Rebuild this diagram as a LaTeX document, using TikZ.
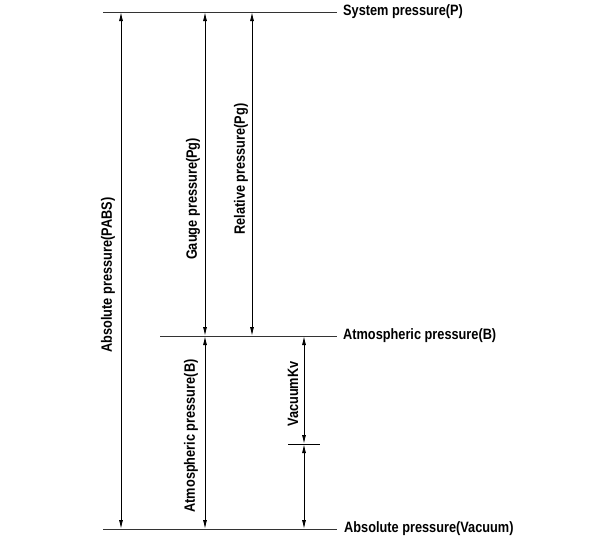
\documentclass[tikz,border=0pt]{standalone}
\usepackage{fontspec}
\setmainfont[FakeStretch=0.85]{Liberation Sans}
\usetikzlibrary{arrows.meta}
\begin{document}
\begin{tikzpicture}[x=1pt,y=-1pt,
  level/.style={draw=black!80, line width=0.9pt},
  dim/.style={draw=black, line width=0.9pt, {Latex[length=9pt,width=4pt]}-{Latex[length=9pt,width=4pt]}},
  lab/.style={font=\bfseries\fontsize{15}{18}\selectfont, inner sep=0pt},
  vlab/.style={lab, rotate=90, anchor=center}]
\useasboundingbox (0,0) rectangle (600,542);
% level lines
\coordinate (tl) at (103,12);  \coordinate (tr) at (337,12);
\coordinate (ml) at (160,336); \coordinate (mr) at (337,336);
\coordinate (bl) at (103,529); \coordinate (br) at (337,529);
\draw[level] (tl) -- (tr);
\draw[level] (ml) -- (mr);
\draw[level] (bl) -- (br);
\node[lab, anchor=west] (sys) at (343,12) {System pressure(P)};
\node[lab, anchor=west] (atm) at (343,336) {Atmospheric pressure(B)};
\node[lab, anchor=west] (vac) at (344,529) {Absolute pressure(Vacuum)};
% dimension endpoints
\coordinate (a1) at (121,12);  \coordinate (a2) at (121,529);
\coordinate (g1) at (205,12);  \coordinate (g2) at (205,336); \coordinate (g3) at (205,529);
\coordinate (r1) at (252,12);  \coordinate (r2) at (252,336);
\coordinate (v1) at (304,336); \coordinate (v2) at (304,444); \coordinate (v3) at (304,529);
\coordinate (k1) at (288,444); \coordinate (k2) at (320,444);
\draw[dim] (a1) -- (a2);
\draw[dim] (g1) -- (g2);
\draw[dim] (g2) -- (g3);
\draw[dim] (r1) -- (r2);
\draw[dim] (v1) -- (v2);
\draw[dim] (v2) -- (v3);
\draw[draw=black, line width=0.9pt] (k1) -- (k2);
% labels
\node[vlab] (labs) at (108,275) {Absolute pressure(PABS)};
\node[vlab] (lgauge) at (193,199) {Gauge pressure(Pg)};
\node[vlab] (lrel) at (241,169) {Relative pressure(Pg)};
\node[vlab] (latm) at (191,436) {Atmospheric pressure(B)};
\node[vlab] (lvac) at (293,394) {VacuumKv};
\end{tikzpicture}
\end{document}
